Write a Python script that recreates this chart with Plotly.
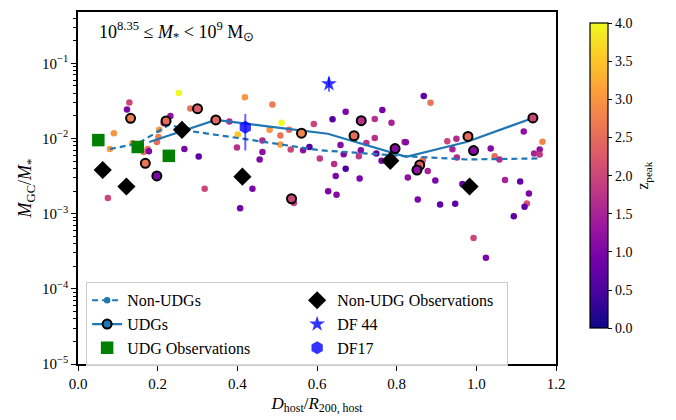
import plotly.graph_objects as go

# ---------------- data ----------------
# Non-UDG simulated galaxies: distance, GC mass fraction, z_peak
nu_x = [0.253, 0.129, 0.123, 0.090, 0.080, 0.282, 0.232, 0.215, 0.204, 0.202,
        0.198, 0.175, 0.165, 0.178, 0.137, 0.267, 0.303, 0.318, 0.075, 0.380,
        0.401, 0.399, 0.407, 0.419, 0.488, 0.511, 0.481, 0.508, 0.530, 0.508,
        0.592, 0.463, 0.463, 0.456, 0.534, 0.565, 0.581, 0.607, 0.438, 0.542,
        0.639, 0.672, 0.745, 0.764, 0.787, 0.659, 0.724, 0.745, 0.667, 0.705,
        0.710, 0.749, 0.762, 0.643, 0.672, 0.647, 0.707, 0.628, 0.649, 0.820,
        0.868, 0.885, 0.823, 0.927, 0.950, 0.940, 0.951, 1.036, 1.046, 1.058,
        1.119, 1.166, 1.159, 1.145, 1.159, 0.866, 0.878, 0.828, 0.897, 0.965,
        1.072, 1.110, 1.132, 1.127, 1.121, 1.094, 0.853, 0.909, 0.947, 0.993,
        1.024]
nu_y = [0.0404, 0.0301, 0.0243, 0.01178, 0.00726, 0.0251, 0.01995, 0.0159, 0.01305, 0.01044,
        0.00898, 0.00726, 0.00663, 0.00676, 0.00863, 0.00726, 0.00577, 0.00214, 0.00162, 0.0168,
        0.01133, 0.00757, 0.00118, 0.0354, 0.0283, 0.01615, 0.01306, 0.01099, 0.01306, 0.00835,
        0.0156, 0.00944, 0.00662, 0.00526, 0.00713, 0.00698, 0.00771, 0.00543, 0.00214, 0.00139,
        0.0180, 0.0227, 0.0182, 0.0239, 0.01615, 0.00818, 0.00870, 0.01012, 0.00618, 0.00582,
        0.00698, 0.00631, 0.00505, 0.00457, 0.00396, 0.00318, 0.00293, 0.00198, 0.00179, 0.00897,
        0.0368, 0.0298, 0.00889, 0.00916, 0.00994, 0.00719, 0.00560, 0.00735, 0.00582, 0.00527,
        0.01239, 0.00908, 0.00713, 0.00631, 0.00612, 0.00516, 0.00370, 0.00302, 0.00276, 0.00249,
        0.00281, 0.00267, 0.00186, 0.00137, 0.00124, 0.000927, 0.00154, 0.00132, 0.00135, 0.000476,
        0.000260]
nu_z = [4.0, 2.0, 1.0, 3.0, 3.1, 2.6, 1.2, 2.0, 3.0, 2.7,
        2.5, 2.6, 2.6, 1.0, 2.8, 1.0, 0.7, 2.0, 2.0, 1.6,
        3.5, 1.7, 0.9, 3.0, 2.7, 4.0, 3.0, 2.6, 2.5, 3.1,
        2.0, 1.6, 1.2, 1.0, 2.0, 1.2, 0.6, 1.8, 1.0, 1.9,
        0.6, 1.0, 1.7, 0.9, 1.5, 1.1, 1.7, 1.7, 1.1, 1.8,
        1.1, 0.7, 1.0, 1.7, 0.5, 1.0, 1.0, 1.0, 1.1, 1.5,
        0.7, 2.6, 1.1, 2.0, 1.6, 1.5, 1.6, 1.1, 2.5, 1.6,
        1.2, 2.8, 1.2, 1.5, 1.8, 2.5, 1.5, 1.2, 1.0, 0.8,
        1.5, 0.7, 1.0, 2.2, 0.7, 0.7, 1.0, 0.7, 0.7, 2.0,
        1.0]

# UDG simulated galaxies
udg_x = [0.132, 0.300, 0.221, 0.169, 0.198, 0.346, 0.561, 0.536,
         0.711, 0.693, 0.796, 0.979, 0.993, 1.142, 0.858, 0.851]
udg_y = [0.01854, 0.0249, 0.01714, 0.00467, 0.00318, 0.01766, 0.01178, 0.00158,
         0.01729, 0.01088, 0.00735, 0.01067, 0.00692, 0.01875, 0.00444, 0.00381]
udg_z = [2.7, 2.3, 2.5, 2.6, 1.0, 2.4, 2.8, 2.0,
         1.7, 2.5, 1.1, 2.5, 1.1, 2.0, 2.3, 1.2]

# binned medians
nu_med_x = [0.080, 0.150, 0.230, 0.280, 0.413, 0.607, 0.823, 0.975, 1.159]
nu_med_y = [0.00726, 0.00855, 0.01531, 0.01259, 0.00994, 0.00698, 0.00582, 0.00526, 0.00543]
udg_med_x = [0.179, 0.346, 0.481, 0.627, 0.824, 0.975, 1.142]
udg_med_y = [0.00897, 0.01766, 0.01442, 0.01156, 0.00570, 0.00897, 0.01875]

# observations
obs_udg_x = [0.051, 0.150, 0.228]
obs_udg_y = [0.00952, 0.00771, 0.00588]
obs_nonudg_x = [0.062, 0.1215, 0.261, 0.4127, 0.784, 0.983]
obs_nonudg_y = [0.00381, 0.00230, 0.01306, 0.00311, 0.00505, 0.00230]
df44_x = [0.630]
df44_y = [0.0535]
df44_err_plus = [0.0120]
df44_err_minus = [0.0115]
df17_x = [0.420]
df17_y = [0.01413]
df17_err_plus = [0.0071]
df17_err_minus = [0.0072]

y_tick_vals = [1e-5, 1e-4, 1e-3, 1e-2, 1e-1]
y_tick_text = ["10<sup>−5</sup>", "10<sup>−4</sup>", "10<sup>−3</sup>",
               "10<sup>−2</sup>", "10<sup>−1</sup>"]
y_minor_vals = [m * 10.0 ** e for e in range(-5, 0) for m in range(2, 10)]
x_tick_vals = [0.0, 0.2, 0.4, 0.6, 0.8, 1.0, 1.2]
cbar_tick_vals = [0.0, 0.5, 1.0, 1.5, 2.0, 2.5, 3.0, 3.5, 4.0]

# ---------------- figure ----------------
SERIF = "Liberation Serif"
TAB_BLUE = "#1f77b4"

fig = go.Figure()

fig.add_trace(go.Scatter(
    x=nu_x, y=nu_y, mode="markers", showlegend=False,
    marker=dict(size=6.5, color=nu_z, coloraxis="coloraxis", line=dict(width=0)),
))

fig.add_trace(go.Scatter(
    x=nu_med_x, y=nu_med_y, mode="lines", showlegend=False,
    line=dict(color=TAB_BLUE, width=2.2, dash="6px,4px"),
))
fig.add_trace(go.Scatter(
    x=udg_med_x, y=udg_med_y, mode="lines", showlegend=False,
    line=dict(color=TAB_BLUE, width=2.2),
))

fig.add_trace(go.Scatter(
    x=udg_x, y=udg_y, mode="markers", showlegend=False,
    marker=dict(size=9, color=udg_z, coloraxis="coloraxis",
                line=dict(width=2, color="black")),
))

fig.add_trace(go.Scatter(
    x=obs_udg_x, y=obs_udg_y, mode="markers", name="UDG Observations",
    legendrank=5,
    marker=dict(symbol="square", size=12.5, color="green", line=dict(width=0)),
))
fig.add_trace(go.Scatter(
    x=obs_nonudg_x, y=obs_nonudg_y, mode="markers", name="Non-UDG Observations",
    legendrank=2,
    marker=dict(symbol="diamond", size=14, color="black", line=dict(width=0)),
))
fig.add_trace(go.Scatter(
    x=df44_x, y=df44_y, mode="markers", name="DF 44", legendrank=4,
    marker=dict(symbol="star", size=12, color="rgba(0,0,255,0.8)", line=dict(width=0)),
    error_y=dict(type="data", symmetric=False, array=df44_err_plus,
                 arrayminus=df44_err_minus, color="rgba(0,0,255,0.6)",
                 thickness=2, width=0),
))
fig.add_trace(go.Scatter(
    x=df17_x, y=df17_y, mode="markers", name="DF17", legendrank=6,
    marker=dict(symbol="hexagon", size=13, color="rgba(0,0,255,0.8)", line=dict(width=0)),
    error_y=dict(type="data", symmetric=False, array=df17_err_plus,
                 arrayminus=df17_err_minus, color="rgba(0,0,255,0.6)",
                 thickness=2, width=0),
))

# legend-only entries
fig.add_trace(go.Scatter(
    x=[None], y=[None], mode="lines+markers", name="Non-UDGs", legendrank=1,
    marker=dict(size=6.5, color=TAB_BLUE), line=dict(color=TAB_BLUE, width=2.2, dash="6px,4px"),
))
fig.add_trace(go.Scatter(
    x=[None], y=[None], mode="lines+markers", name="UDGs", legendrank=3,
    marker=dict(size=9, color=TAB_BLUE, line=dict(width=2, color="black")),
    line=dict(color=TAB_BLUE, width=2.2),
))

fig.update_layout(
    width=676, height=420,
    margin=dict(l=78, r=120, t=10, b=54),
    paper_bgcolor="white", plot_bgcolor="white",
    font=dict(family=SERIF, size=15, color="black"),
    coloraxis=dict(
        colorscale="Plasma", cmin=0, cmax=4,
        colorbar=dict(
            x=1.071, xanchor="left", xref="paper", xpad=0,
            y=0.535, yanchor="middle", len=0.924, lenmode="fraction",
            thickness=18, outlinecolor="black", outlinewidth=1.2,
            tickvals=cbar_tick_vals, tickformat=".1f",
            ticks="outside", ticklen=4, tickcolor="black",
            tickfont=dict(family=SERIF, size=14),
            title=dict(text="z<sub>peak</sub>", side="right",
                       font=dict(family=SERIF, size=16)),
        ),
    ),
    legend=dict(
        orientation="h", x=0.017, xanchor="left", y=0.232, yanchor="top",
        bgcolor="rgba(255,255,255,0.85)", bordercolor="#cccccc", borderwidth=1,
        font=dict(family=SERIF, size=16),
        entrywidth=165, entrywidthmode="pixels",
        traceorder="normal",
    ),
    showlegend=True,
)

fig.update_xaxes(
    range=[0, 1.2], tickvals=x_tick_vals, tickformat=".1f",
    showline=True, mirror=True, linecolor="black", linewidth=1.5,
    ticks="outside", ticklen=5, tickcolor="black", showgrid=False, zeroline=False,
    tickfont=dict(family=SERIF, size=15),
    title=dict(text="<i>D</i><sub>host</sub>/<i>R</i><sub>200, host</sub>",
               font=dict(family=SERIF, size=17), standoff=6),
)
fig.update_yaxes(
    type="log", range=[-5, -0.317],
    tickvals=y_tick_vals, ticktext=y_tick_text,
    showline=True, mirror=True, linecolor="black", linewidth=1.5,
    ticks="outside", ticklen=5, tickcolor="black", showgrid=False, zeroline=False,
    tickfont=dict(family=SERIF, size=15),
    minor=dict(tickvals=y_minor_vals, ticks="outside", ticklen=3, tickcolor="black", showgrid=False),
    title=dict(text="<i>M</i><sub>GC</sub>/<i>M</i><sub>*</sub>",
               font=dict(family=SERIF, size=18), standoff=6),
)

fig.add_annotation(
    xref="paper", yref="paper", x=0.04, y=0.985, xanchor="left", yanchor="top",
    showarrow=False,
    text="10<sup>8.35</sup> ≤ <i>M</i><sub>*</sub> &lt; 10<sup>9</sup> M<sub>⊙</sub>",
    font=dict(family=SERIF, size=18),
)

fig.write_html("out.html")
